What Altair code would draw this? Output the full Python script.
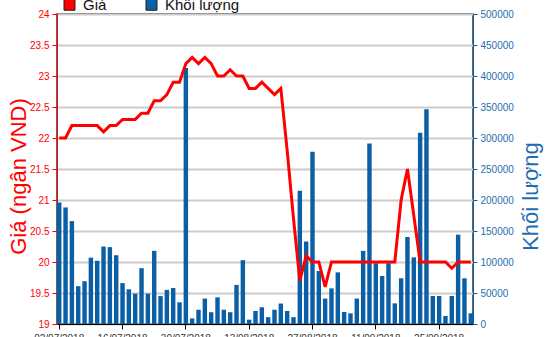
import altair as alt
import pandas as pd

jul = ["02","03","04","05","06","09","10","11","12","13","16","17","18","19","20","23","24","25","26","27","30","31"]
aug = ["01","02","03","06","07","08","09","10","13","14","15","16","17","20","21","22","23","24","27","28","29","30","31"]
sep = ["04","05","06","07","10","11","12","13","14","17","18","19","20","21","24","25","26","27","28"]
oct_ = ["01","02"]
dates = ([f"{d}/07/2018" for d in jul] + [f"{d}/08/2018" for d in aug]
         + [f"{d}/09/2018" for d in sep] + [f"{d}/10/2018" for d in oct_])

price = [22.0, 22.0, 22.2, 22.2, 22.2, 22.2, 22.2, 22.1, 22.2, 22.2,
         22.3, 22.3, 22.3, 22.4, 22.4, 22.6, 22.6, 22.7, 22.9, 22.9,
         23.2, 23.3, 23.2, 23.3, 23.2, 23.0, 23.0, 23.1, 23.0, 23.0,
         22.8, 22.8, 22.9, 22.8, 22.7, 22.8, 21.8, 20.7, 19.7, 20.1,
         20.0, 20.0, 19.6, 20.0, 20.0, 20.0, 20.0, 20.0, 20.0, 20.0,
         20.0, 20.0, 20.0, 20.0, 21.0, 21.5, 20.75, 20.0, 20.0, 20.0,
         20.0, 20.0, 19.9, 20.0, 20.0, 20.0]

volume = [196000, 188000, 166000, 61000, 69000, 107000, 102000, 125000, 124000, 111000,
          66000, 56000, 49000, 90000, 49000, 118000, 45000, 55000, 58000, 35000,
          413000, 9000, 23000, 41000, 19000, 43000, 23000, 19000, 63000, 103000,
          7000, 21000, 27000, 11000, 23000, 33000, 21000, 11000, 215000, 133000,
          278000, 85500, 41000, 57500, 83300, 19400, 17200, 41000, 118000, 291000,
          98000, 77400, 98000, 33300, 73700, 140300, 107500, 308600, 346200, 45200,
          45200, 12900, 45200, 144100, 73700, 17200]

tick_dates = ["02/07/2018", "16/07/2018", "30/07/2018", "13/08/2018",
              "27/08/2018", "11/09/2018", "25/09/2018"]
price_ticks = [19, 19.5, 20, 20.5, 21, 21.5, 22, 22.5, 23, 23.5, 24]
vol_ticks = list(range(0, 500001, 50000))
series_names = ["Giá", "Khối lượng"]

RED = "#ff0000"
BLUE = "#0b5fa5"
BLUE_TXT = "#1f6eb0"
FONT = "Liberation Sans"

df = pd.DataFrame({"date": dates, "price": price, "volume": volume})

x = alt.X("date:O", sort=None,
          scale=alt.Scale(paddingInner=0.3, paddingOuter=0),
          axis=alt.Axis(values=tick_dates, title=None, labelAngle=0, tickSize=5,
                        domainColor="#000", tickColor="#000", labelColor="#333",
                        labelFontSize=10, labelFont=FONT, grid=False, bandPosition=0.5,
                        labelPadding=4))

bars = alt.Chart(df).transform_calculate(series="'Khối lượng'").mark_bar().encode(
    x=x,
    y=alt.Y("volume:Q",
            scale=alt.Scale(domain=[0, 500000], nice=False),
            axis=alt.Axis(orient="right", values=vol_ticks, format="d", grid=False,
                          title="Khối lượng", titleColor=BLUE_TXT, titleFontSize=22,
                          titleFont=FONT, titleFontWeight="normal", titleAngle=-90,
                          titleAlign="center", titleBaseline="alphabetic",
                          titleX=64, titleY=182,
                          labelColor=BLUE_TXT, labelFontSize=10, labelFont=FONT,
                          domainColor="#1060a0", tickColor="#1060a0", tickSize=4,
                          labelPadding=3)),
    color=alt.Color("series:N",
                    scale=alt.Scale(domain=series_names, range=[RED, BLUE]),
                    legend=alt.Legend(title=None, orient="none", legendX=5, legendY=-17,
                                      direction="horizontal", symbolType="square",
                                      symbolSize=121, symbolStrokeColor="#222",
                                      symbolStrokeWidth=1, labelFontSize=15,
                                      labelFont=FONT, labelColor="#111",
                                      labelOffset=6, columnPadding=37, padding=0)),
)

line = alt.Chart(df).mark_line(color=RED, strokeWidth=3).encode(
    x=x,
    y=alt.Y("price:Q",
            scale=alt.Scale(domain=[19, 24], nice=False, zero=False),
            axis=alt.Axis(orient="left", values=price_ticks, format="~g", grid=True,
                          gridColor="#cccccc", gridWidth=2,
                          title="Giá (ngân VND)", titleColor=RED, titleFontSize=22,
                          titleFont=FONT, titleFontWeight="normal", titleAngle=-90,
                          titleAlign="center", titleBaseline="alphabetic",
                          titleX=-32, titleY=162,
                          labelColor=RED, labelFontSize=10, labelFont=FONT,
                          domainColor=RED, tickColor=RED, tickSize=5,
                          labelPadding=3)),
)

chart = alt.layer(bars, line).resolve_scale(y="independent").properties(
    width=416, height=310,
    padding={"left": 57, "top": 14, "right": 77, "bottom": 13},
    autosize=alt.AutoSizeParams(type="none"),
).configure_view(stroke="#333", strokeWidth=1.5)

chart.save("out.html", embed_options={"renderer": "svg", "actions": False})
